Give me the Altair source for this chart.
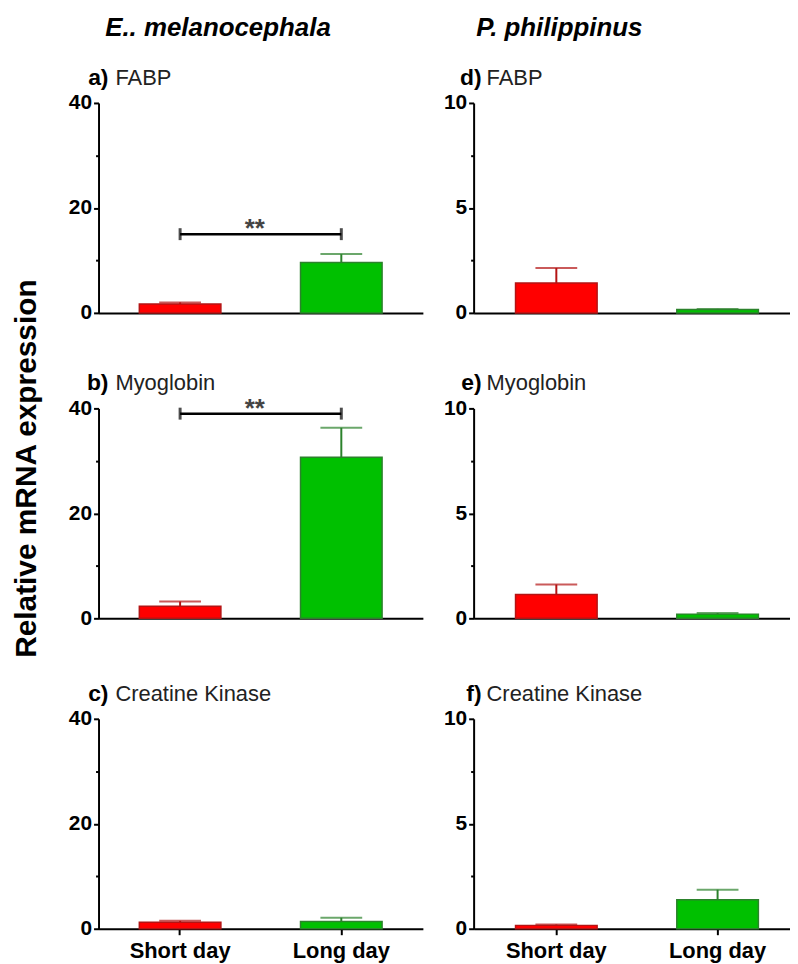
import altair as alt
import pandas as pd

FONT = "Liberation Sans"

groups = ["Short day", "Long day"]
species = ["E.. melanocephala", "P. philippinus"]
panel_letters = ["a)", "b)", "c)", "d)", "e)", "f)"]
gene_names = ["FABP", "Myoglobin", "Creatine Kinase", "FABP", "Myoglobin", "Creatine Kinase"]
mean_short = [1.7, 2.3, 1.25, 1.42, 1.14, 0.16]
mean_long = [9.6, 30.7, 1.4, 0.16, 0.20, 1.38]
upper_short = [2.0, 3.2, 1.5, 2.14, 1.61, 0.20]
upper_long = [11.2, 36.3, 2.1, 0.19, 0.25, 1.86]
y_max = [40, 10]
y_tick_values = [[0, 10, 20, 30, 40], [0, 2.5, 5, 7.5, 10]]
y_label_step = [20, 5]
sig_panels = [0, 1]
sig_heights = [15, 39]
sig_marks = ["**", "**"]

fill_scale = alt.Scale(domain=groups, range=["#FF0000", "#00C000"])
edge_scale = alt.Scale(domain=groups, range=["#B41414", "#2C822C"])


def panel(i, col, bottom):
    width = 326 if col == 0 else 318
    if col == 0:
        xscale = alt.Scale(domain=groups, paddingInner=0.494, paddingOuter=0.253, align=0.5)
    else:
        xscale = alt.Scale(domain=groups, paddingInner=0.494, paddingOuter=0.228, align=0.57)
    if bottom:
        xaxis = alt.Axis(title=None, labelAngle=0, domainColor="black", domainWidth=2,
                         ticks=True, tickColor="black", tickWidth=2, tickSize=6,
                         labelFont=FONT, labelFontSize=22, labelFontWeight="bold",
                         labelColor="black", labelPadding=6)
    else:
        xaxis = alt.Axis(title=None, labels=False, ticks=False, domainColor="black", domainWidth=2)
    step = y_label_step[col]
    yaxis = alt.Axis(title=None, values=y_tick_values[col], grid=False,
                     labelExpr=f"datum.value % {step} == 0 ? datum.label : ''",
                     domainColor="black", domainWidth=2, tickColor="black", tickWidth=2,
                     tickSize={"condition": {"test": f"datum.value % {step} == 0", "value": 5}, "value": 3},
                     labelFont=FONT, labelFontSize=21, labelFontWeight="bold", labelColor="black",
                     labelPadding=2)
    yscale = alt.Scale(domain=[0, y_max[col]], nice=False, zero=True)
    X = alt.X("group:N", scale=xscale, axis=xaxis, sort=groups)

    df = pd.DataFrame({"group": groups,
                       "mean": [mean_short[i], mean_long[i]],
                       "upper": [upper_short[i], upper_long[i]]})
    base = alt.Chart(df)
    bars = base.mark_bar(strokeWidth=1.5).encode(
        x=X,
        y=alt.Y("mean:Q", scale=yscale, axis=yaxis),
        fill=alt.Fill("group:N", scale=fill_scale, legend=None),
        stroke=alt.Stroke("group:N", scale=edge_scale, legend=None),
    )
    err = base.mark_rule(strokeWidth=2).encode(
        x=X, y="mean:Q", y2="upper:Q",
        color=alt.Color("group:N", scale=edge_scale, legend=None),
    )
    cap = base.mark_tick(thickness=2, size=42, orient="horizontal").encode(
        x=X, y="upper:Q",
        color=alt.Color("group:N", scale=edge_scale, legend=None),
    )
    layers = [bars, err, cap]

    if i in sig_panels:
        h = sig_heights[sig_panels.index(i)]
        sdf = pd.DataFrame({"group": groups, "y": [h, h]})
        sb = alt.Chart(sdf)
        line = sb.mark_line(color="black", strokeWidth=2.5).encode(x=X, y="y:Q")
        ends = sb.mark_tick(color="black", thickness=3, size=12, orient="vertical").encode(x=X, y="y:Q")
        tdf = pd.DataFrame({"group": [groups[0]], "y": [h], "t": [sig_marks[sig_panels.index(i)]]})
        stars = alt.Chart(tdf).mark_text(font=FONT, fontSize=26, fontWeight="bold", color="#444444",
                                         dx=75, dy=3, baseline="alphabetic").encode(
            x=X, y="y:Q", text="t:N")
        layers += [line, ends, stars]

    ldf = pd.DataFrame({"letter": [panel_letters[i]], "gene": [gene_names[i]]})
    lab = alt.Chart(ldf)
    letter = lab.mark_text(font=FONT, fontSize=23, fontWeight="bold", color="black",
                           align="right", baseline="alphabetic").encode(
        x=alt.value(10 if col == 0 else 8), y=alt.value(-18), text="letter:N")
    gene = lab.mark_text(font=FONT, fontSize=22, color="#222222",
                         align="left", baseline="alphabetic").encode(
        x=alt.value(17 if col == 0 else 13), y=alt.value(-18), text="gene:N")
    layers += [letter, gene]

    return alt.layer(*layers).properties(width=width, height=211)


def column(col):
    p = [panel(col * 3 + r, col, r == 2) for r in range(3)]
    top = alt.vconcat(p[0], p[1], spacing=50)
    return alt.vconcat(top, p[2], spacing=55,
                       title=alt.Title(species[col], anchor="start", font=FONT, fontSize=26,
                                       fontWeight="bold", fontStyle="italic", color="black",
                                       dx=37 if col == 0 else 33, offset=26))


chart = alt.hconcat(column(0), column(1), spacing=20,
                    title=alt.Title("Relative mRNA expression", orient="left", anchor="middle",
                                    font=FONT, fontSize=30, fontWeight="bold", color="black",
                                    offset=27, dx=20)
                    ).properties(padding={"left": 3, "top": 5, "right": 0, "bottom": 0}
                    ).configure_view(stroke=None).configure_concat(spacing=20)

chart.save("out.html", embed_options={"renderer": "svg", "actions": False})
